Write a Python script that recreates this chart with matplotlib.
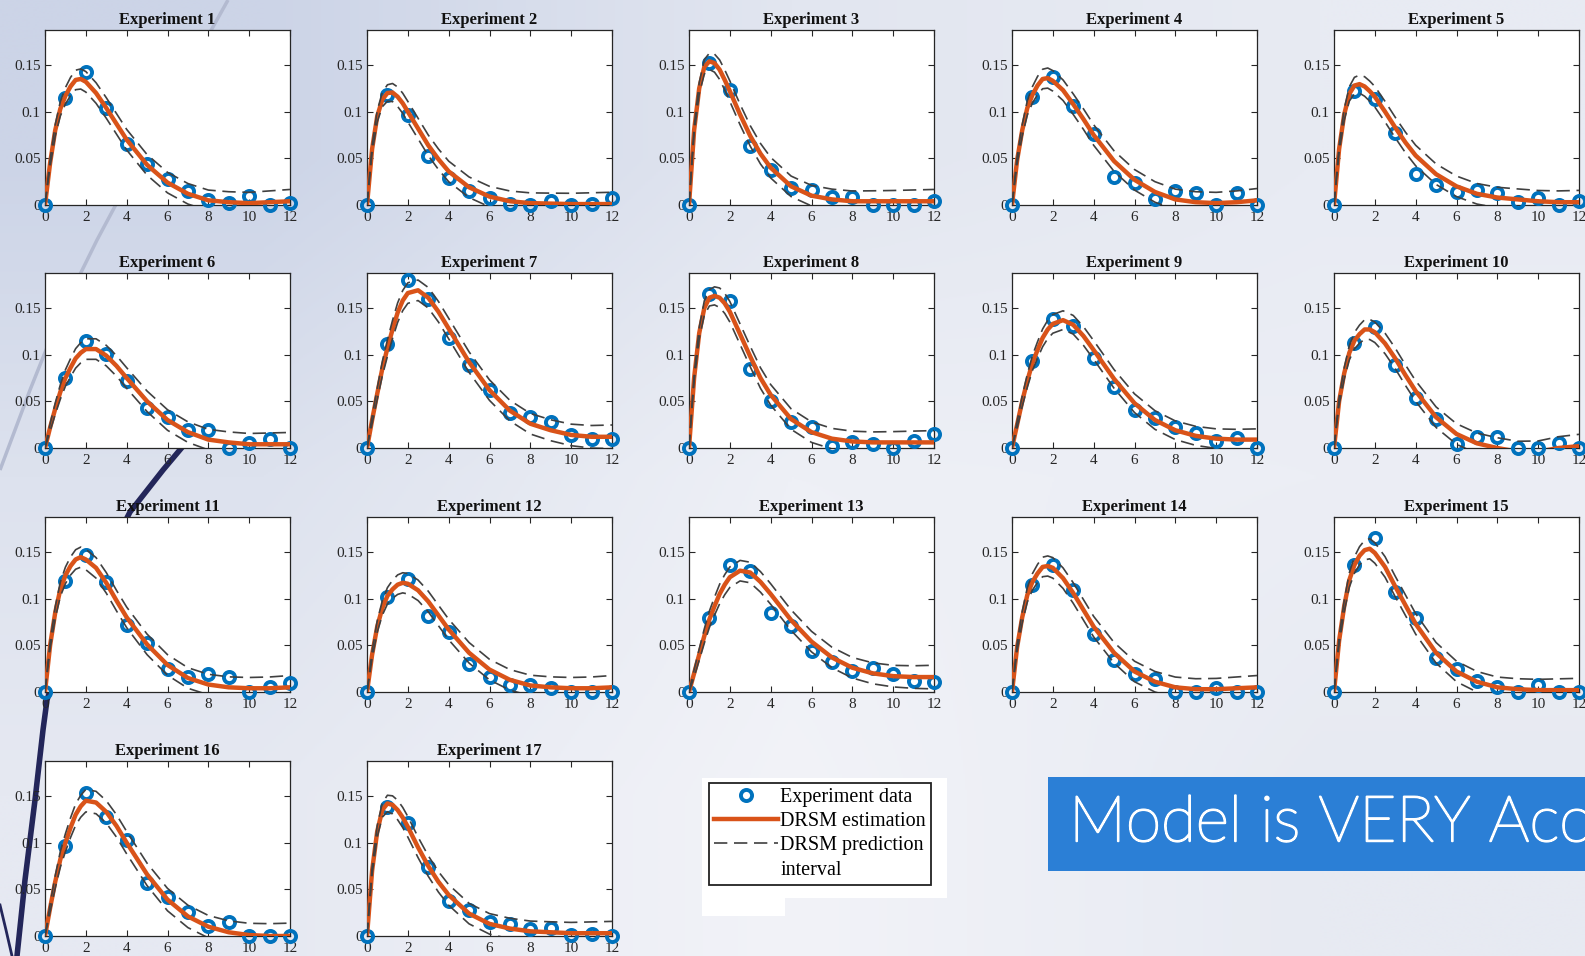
import numpy as np
import matplotlib.pyplot as plt
import matplotlib.patheffects as pe
from matplotlib.lines import Line2D
from matplotlib.patches import Rectangle

plt.rcParams['font.family'] = ['Liberation Serif', 'DejaVu Serif']

# sampling times of the measurements and of the model curves
t_obs = [0, 1, 2, 3, 4, 5, 6, 7, 8, 9, 10, 11, 12]
t_fit = [0, 0.25, 0.5, 0.75, 1, 1.25, 1.5, 1.75, 2, 2.5, 3, 3.5, 4, 5, 6, 7, 8, 9, 10, 11, 12]

# measured response, one row per experiment
measured = [
    [0, .115, .143, .104, .065, .044, .028, .015, .005, .0025, .010, 0, .002],
    [0, .118, .096, .053, .029, .015, .008, .001, 0, .004, 0, .001, .007],
    [0, .152, .123, .063, .037, .018, .016, .009, .009, 0, 0, 0, .004],
    [0, .116, .137, .106, .076, .030, .024, .006, .015, .013, 0, .013, 0],
    [0, .122, .114, .077, .033, .021, .014, .016, .013, .003, .007, 0, .004],
    [0, .0745, .115, .101, .072, .043, .033, .019, .019, 0, .005, .010, 0],
    [0, .111, .180, .160, .118, .089, .062, .038, .033, .028, .014, .010, .010],
    [0, .1655, .157, .085, .050, .028, .022, .0025, .006, .004, 0, .008, .015],
    [0, .0935, .138, .131, .096, .065, .041, .032, .023, .016, .007, .011, 0],
    [0, .113, .130, .089, .054, .031, .004, .012, .012, 0, 0, .005, 0],
    [0, .119, .147, .118, .072, .053, .025, .016, .019, .016, 0, .005, .010],
    [0, .1015, .121, .081, .064, .030, .016, .0076, .0076, .004, 0, 0, 0],
    [0, .079, .136, .130, .085, .071, .044, .032, .023, .026, .019, .012, .011],
    [0, .1145, .136, .109, .0626, .0346, .019, .014, 0, 0, .004, 0, 0],
    [0, .136, .165, .107, .079, .036, .025, .012, .005, 0, .0076, 0, 0],
    [0, .096, .153, .1276, .103, .057, .042, .026, .011, .015, 0, 0, 0],
    [0, .138, .121, .074, .038, .028, .015, .0125, .008, .009, .001, .002, 0],
]

# DRSM estimation on t_fit
estimate = [
    [0, .045, .080, .103, .117, .127, .134, .135, .132, .120, .104, .087, .070, .043, .024, .012, .005, .003, .002, .003, .004],
    [0, .060, .095, .113, .120, .1205, .116, .109, .100, .082, .064, .049, .036, .019, .009, .004, .002, .0015, .001, .001, .001],
    [0, .080, .125, .148, .154, .152, .145, .134, .122, .097, .074, .055, .040, .020, .010, .006, .004, .004, .004, .004, .004],
    [0, .048, .080, .104, .118, .128, .135, .136, .133, .123, .108, .092, .075, .047, .027, .014, .006, .003, .002, .003, .005],
    [0, .060, .097, .119, .128, .1295, .127, .122, .116, .100, .083, .067, .053, .033, .020, .012, .008, .006, .004, .003, .003],
    [0, .022, .042, .060, .075, .086, .096, .102, .106, .106, .099, .088, .075, .050, .030, .017, .009, .006, .004, .004, .004],
    [0, .030, .058, .085, .107, .127, .145, .158, .166, .169, .161, .146, .128, .092, .062, .040, .026, .019, .014, .012, .012],
    [0, .075, .123, .150, .161, .163, .161, .155, .146, .122, .098, .075, .057, .031, .017, .010, .007, .006, .006, .006, .006],
    [0, .025, .050, .072, .091, .105, .118, .127, .133, .137, .132, .120, .105, .074, .048, .030, .019, .013, .010, .009, .009],
    [0, .050, .080, .102, .115, .122, .127, .127, .124, .112, .096, .078, .061, .033, .015, .005, 0, -.004, -.004, 0, .002],
    [0, .050, .085, .110, .125, .135, .142, .1445, .142, .133, .117, .098, .080, .051, .029, .015, .008, .005, .004, .004, .005],
    [0, .040, .070, .090, .103, .110, .115, .117, .116, .109, .097, .082, .067, .042, .024, .013, .007, .005, .004, .004, .005],
    [0, .020, .040, .060, .078, .092, .105, .115, .123, .130, .128, .118, .105, .077, .054, .037, .026, .020, .017, .016, .016],
    [0, .048, .080, .104, .118, .127, .134, .135, .133, .122, .106, .088, .070, .042, .022, .011, .005, .003, .003, .004, .005],
    [0, .055, .092, .120, .136, .146, .152, .1535, .149, .134, .113, .093, .073, .042, .022, .011, .005, .003, .002, .002, .002],
    [0, .030, .058, .082, .100, .116, .130, .139, .145, .143, .133, .118, .100, .066, .039, .021, .010, .004, .001, 0, 0],
    [0, .070, .112, .135, .142, .1405, .135, .127, .117, .095, .075, .058, .044, .024, .013, .008, .005, .004, .003, .003, .003],
]

# half width of the prediction interval per experiment, and its shape along t_fit
band = [.011, .011, .011, .011, .011, .011, .011, .011, .010, .011, .011, .011, .011, .011, .011, .012, .011]
band_ramp = [0, .35, .55, .7, .8, .88, .95, .98, 1, 1, 1, 1, 1, 1, 1, 1, 1, 1.02, 1.05, 1.1, 1.15]

W, H = 1585, 956
col_left = [45, 367, 689, 1012, 1334]
row_top = [30, 273, 517, 761]
AW, AH = 245, 175

BLUE = '#0072BD'
ORANGE = '#D95319'
GREY = '#404040'
INK = '#262626'

fig = plt.figure(figsize=(W / 100, H / 100), dpi=100)

# slide background
bg = fig.add_axes([0, 0, 1, 1], zorder=-10)
shade = np.array([
    [[204, 212, 231], [226, 230, 240], [232, 235, 243]],
    [[221, 226, 238], [238, 240, 246], [236, 238, 245]],
    [[230, 233, 242], [242, 243, 248], [231, 234, 242]],
]) / 255
bg.imshow(shade, extent=[0, W, H, 0], aspect='auto', interpolation='bilinear')
bg.plot([228, 160, 97, 60, 30, 0], [0, 122, 240, 315, 390, 470], color='#b3bad0', lw=2.5, solid_capstyle='butt')
bg.plot([205, 163, 130, 95, 66, 47, 43, 35, 25, 17],
        [420, 470, 512, 580, 640, 700, 730, 800, 880, 956], color='#23265a', lw=4)
bg.plot([0, 6, 12], [905, 930, 956], color='#23265a', lw=2)
bg.add_patch(Rectangle((702, 778), 245, 120, color='white', lw=0))
bg.add_patch(Rectangle((702, 897), 83, 19, color='white', lw=0))
bg.add_patch(Rectangle((1048, 777), W - 1048, 94, color='#2b7fd6', lw=0))
bg.text(1069, 824, 'Model is VERY Accurate', color='white', fontsize=46,
        family=['Lato', 'DejaVu Sans'], fontweight='light', va='center', ha='left', clip_on=True,
        path_effects=[pe.withStroke(linewidth=1.4, foreground='white')])
bg.set_xlim(0, W)
bg.set_ylim(H, 0)
bg.axis('off')

tf = np.array(t_fit)
ramp = np.array(band_ramp)
for k in range(len(measured)):
    r, c = divmod(k, 5)
    ax = fig.add_axes([col_left[c] / W, 1 - (row_top[r] + AH) / H, AW / W, AH / H])
    est = np.array(estimate[k])
    hw = band[k] * ramp
    ax.plot(t_obs, measured[k], 'o', mfc='none', mec=BLUE, ms=8, mew=2.8, clip_on=False, zorder=3)
    ax.plot(tf, est, color=ORANGE, lw=3.2, zorder=4, solid_joinstyle='round')
    ax.plot(tf, est + hw, color=GREY, lw=1.2, dashes=(8, 4), zorder=5)
    ax.plot(tf, est - hw, color=GREY, lw=1.2, dashes=(8, 4), zorder=5)
    ax.set_xlim(0, 12)
    ax.set_ylim(0, 0.1875)
    ax.set_xticks(range(0, 13, 2))
    ax.set_yticks([0, 0.05, 0.1, 0.15], labels=['0', '0.05', '0.1', '0.15'])
    ax.tick_params(direction='in', top=True, right=True, length=4, width=0.8,
                   colors=INK, labelsize=11)
    ax.tick_params(axis='x', pad=4.5)
    ax.tick_params(axis='y', pad=3)
    for s in ax.spines.values():
        s.set_color(INK)
        s.set_linewidth(0.9)
    ax.set_title(f'Experiment {k + 1}', fontsize=12, fontweight='bold', pad=4.5, color='#111111')

handles = [
    Line2D([], [], ls='none', marker='o', mfc='none', mec=BLUE, ms=8, mew=2.8),
    Line2D([], [], color=ORANGE, lw=3.2),
    Line2D([], [], color=GREY, lw=1.2, dashes=(8, 4)),
    Line2D([], [], color='none'),
]
labels = ['Experiment data', 'DRSM estimation', 'DRSM prediction', 'interval']
leg = fig.legend(handles, labels, loc='upper left', bbox_to_anchor=(709 / W, 1 - 783 / H),
                 borderaxespad=0, fancybox=False, framealpha=1, edgecolor='#222222',
                 fontsize=14.5, handlelength=3.2, handletextpad=0.1, labelspacing=0.25,
                 borderpad=0.25)
leg.get_frame().set_linewidth(1.3)

fig.savefig('out.png', dpi=100)
